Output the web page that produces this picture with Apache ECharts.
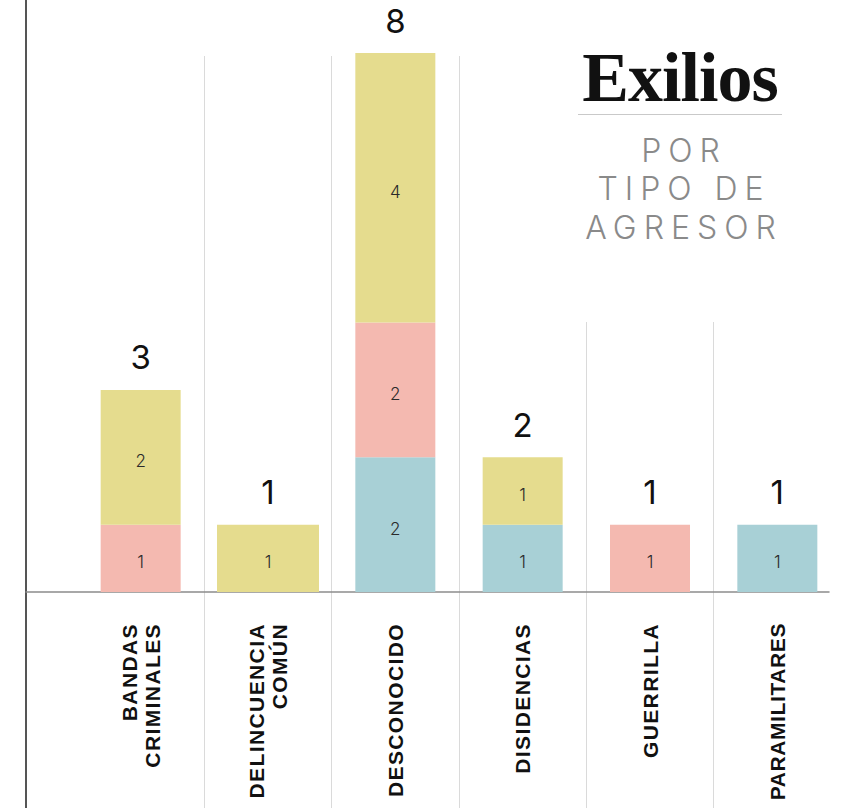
<!DOCTYPE html>
<html>
<head>
<meta charset="utf-8">
<script src="https://cdn.jsdelivr.net/npm/echarts@6/dist/echarts.min.js"></script>
<style>
  html, body { margin: 0; padding: 0; background: #fff; }
  #chart { width: 842px; height: 808px; }
</style>
</head>
<body>
<div id="chart"></div>
<script>
// categorias (eje x)
const categorias = ['BANDAS\nCRIMINALES', 'DELINCUENCIA\nCOMÚN', 'DESCONOCIDO', 'DISIDENCIAS', 'GUERRILLA', 'PARAMILITARES'];
// valores por color, de abajo hacia arriba
const azul = [0, 0, 2, 1, 0, 1];
const rosa = [1, 0, 2, 0, 1, 0];
const amarillo = [2, 1, 4, 1, 0, 0];
const totales = categorias.map((c, i) => azul[i] + rosa[i] + amarillo[i]);

// la barra de DELINCUENCIA COMÚN es más ancha en el original
const ancha = 1;

const COLORES = { azul: '#a8d0d6', rosa: '#f4b9b0', amarillo: '#e5dc8e' };
const G_LEFT = 77, G_RIGHT = 1;

const chart = echarts.init(document.getElementById('chart'), null, { renderer: 'svg' });

const etiquetaTramo = {
  show: true,
  position: 'inside',
  offset: [0, 4],
  fontFamily: 'Inter',
  fontSize: 17,
  fontWeight: 300,
  color: '#2a2a2a',
  formatter: (p) => (p.value ? p.value : '')
};

const sinVacios = (arr, fn) => arr.map((v, i) => (fn(i) && v ? v : '-'));

chart.setOption({
  animation: false,
  title: [
    {
      text: 'Exilios',
      left: 680, top: 42, padding: 0, textAlign: 'center',
      textStyle: { fontFamily: 'Liberation Serif', fontWeight: 'bold', fontSize: 70, color: '#111' }
    },
    {
      text: 'POR\nTIPO DE\nAGRESOR',
      left: 684, top: 131, padding: 0, textAlign: 'center',
      textStyle: { fontFamily: 'Inter', fontWeight: 300, fontSize: 32, lineHeight: 38.5, color: '#8a8a8a' }
    }
  ],
  graphic: [
    { type: 'line', shape: { x1: 578, y1: 114.5, x2: 782, y2: 114.5 }, style: { stroke: '#c9c9c9', lineWidth: 1 } }
  ],
  grid: [
    { left: G_LEFT, right: G_RIGHT, top: 53, bottom: 216 },   // barras
    { left: 26, right: 13, top: 0, bottom: 0 },               // marco
    { left: G_LEFT, right: G_RIGHT, top: 56, bottom: 0 },     // separadores altos
    { left: G_LEFT, right: G_RIGHT, top: 322, bottom: 0 }     // separadores bajos
  ],
  xAxis: [
    {
      gridIndex: 0, type: 'category', data: categorias,
      axisLine: { show: false }, axisTick: { show: false }, splitLine: { show: false },
      axisLabel: {
        interval: 0, rotate: 90, margin: 31,
        fontFamily: 'Liberation Sans', fontWeight: 'bold', fontSize: 21, lineHeight: 23, color: '#111'
      }
    },
    { gridIndex: 0, type: 'category', data: categorias, show: false },
    {
      gridIndex: 1, type: 'category', data: categorias, position: 'bottom', offset: -216,
      axisLine: { show: true, onZero: false, lineStyle: { color: '#8c8c8c', width: 1.5 } },
      axisTick: { show: false }, axisLabel: { show: false }, splitLine: { show: false }
    },
    {
      gridIndex: 2, type: 'category', data: categorias,
      axisLine: { show: false }, axisTick: { show: false }, axisLabel: { show: false },
      splitLine: {
        show: true, showMinLine: false, showMaxLine: false,
        interval: (i) => i <= 3,
        lineStyle: { color: '#dadada', width: 1 }
      }
    },
    {
      gridIndex: 3, type: 'category', data: categorias,
      axisLine: { show: false }, axisTick: { show: false }, axisLabel: { show: false },
      splitLine: {
        show: true, showMinLine: false, showMaxLine: false,
        interval: (i) => i === 0 || i >= 4,
        lineStyle: { color: '#dadada', width: 1 }
      }
    }
  ],
  yAxis: [
    { gridIndex: 0, type: 'value', min: 0, max: 8, show: false },
    {
      gridIndex: 1, type: 'value',
      axisLine: { show: true, lineStyle: { color: '#555', width: 2 } },
      axisTick: { show: false }, axisLabel: { show: false }, splitLine: { show: false }
    },
    { gridIndex: 2, type: 'value', show: false },
    { gridIndex: 3, type: 'value', show: false }
  ],
  series: [
    {
      name: 'azul', type: 'bar', stack: 'a', barWidth: 80, barGap: '-100%',
      data: sinVacios(azul, () => true),
      itemStyle: { color: COLORES.azul }, label: etiquetaTramo
    },
    {
      name: 'rosa', type: 'bar', stack: 'a', barWidth: 80, barGap: '-100%',
      data: sinVacios(rosa, () => true),
      itemStyle: { color: COLORES.rosa }, label: etiquetaTramo
    },
    {
      name: 'amarillo', type: 'bar', stack: 'a', barWidth: 80, barGap: '-100%',
      data: sinVacios(amarillo, (i) => i !== ancha),
      itemStyle: { color: COLORES.amarillo }, label: etiquetaTramo
    },
    {
      name: 'amarillo', type: 'bar', xAxisIndex: 1, barWidth: 102,
      data: sinVacios(amarillo, (i) => i === ancha),
      itemStyle: { color: COLORES.amarillo }, label: etiquetaTramo
    },
    {
      name: 'total', type: 'bar', barWidth: 80, barGap: '-100%', silent: true,
      data: totales,
      itemStyle: { color: 'transparent' },
      label: {
        show: true, position: 'top', distance: 16,
        fontFamily: 'Inter', fontSize: 33, fontWeight: 400, color: '#111'
      }
    }
  ]
});

// espaciado de letras (solo en el renderizado svg)
function espaciar() {
  document.querySelectorAll('#chart text').forEach((t) => {
    const s = t.textContent;
    if (['POR', 'TIPO DE', 'AGRESOR'].includes(s)) t.setAttribute('letter-spacing', '7px');
    else if (s === 'PARAMILITARES') t.setAttribute('letter-spacing', '0.6px');
    else if (categorias.join('\n').split('\n').includes(s)) t.setAttribute('letter-spacing', '1.4px');
    else if (s === 'Exilios') t.setAttribute('letter-spacing', '-1px');
  });
}
chart.on('finished', espaciar);
espaciar();
setTimeout(espaciar, 50);
</script>
</body>
</html>
